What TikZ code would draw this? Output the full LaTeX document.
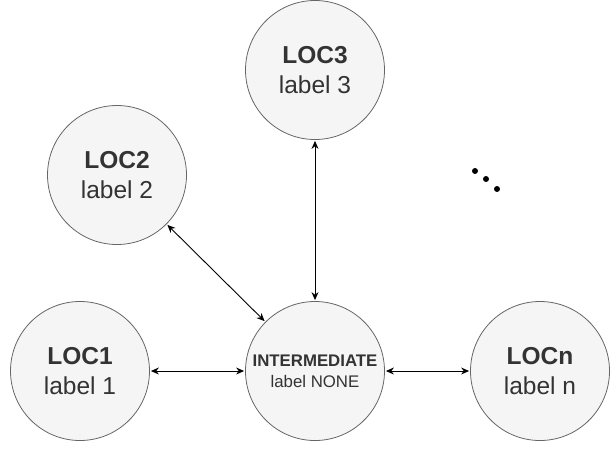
\documentclass[tikz,border=0pt]{standalone}
\usepackage{fontspec}
\setmainfont{Liberation Sans}
\usetikzlibrary{arrows.meta}
\definecolor{nodefill}{HTML}{F5F5F5}
\definecolor{nodeline}{HTML}{666666}
\definecolor{txt}{HTML}{333333}
\tikzset{
  loc/.style={circle, draw=nodeline, fill=nodefill, line width=0.8pt, minimum size=139pt, inner sep=0pt, text=txt, align=center, font=\fontsize{24.5}{30}\selectfont},
  midloc/.style={loc, font=\fontsize{16.8}{20.6}\selectfont},
  link/.style={line width=0.9pt, {Stealth[length=8pt,width=7pt]}-{Stealth[length=8pt,width=7pt]}, shorten <=1pt, shorten >=1pt},
  dotmark/.style={circle, fill=black, inner sep=0pt, minimum size=6pt}
}
\begin{document}
\begin{tikzpicture}[x=1pt,y=-1pt]
\useasboundingbox (0,0) rectangle (610,448);
\node[loc] (loc3) at (315,70) {\textbf{LOC3}\\label 3};
\node[loc] (loc2) at (117,175) {\textbf{LOC2}\\label 2};
\node[loc] (loc1) at (80,371) {\textbf{LOC1}\\label 1};
\node[midloc] (inter) at (315,371) {\textbf{INTERMEDIATE}\\label NONE};
\node[loc] (locn) at (540,371) {\textbf{LOCn}\\label n};
\draw[link] (loc1) -- (inter);
\draw[link] (inter) -- (locn);
\draw[link] (loc2) -- (inter);
\draw[link] (loc3) -- (inter);
\node[dotmark] (d1) at (475,171) {};
\node[dotmark] (d2) at (486,179) {};
\node[dotmark] (d3) at (497,189) {};
\end{tikzpicture}
\end{document}
